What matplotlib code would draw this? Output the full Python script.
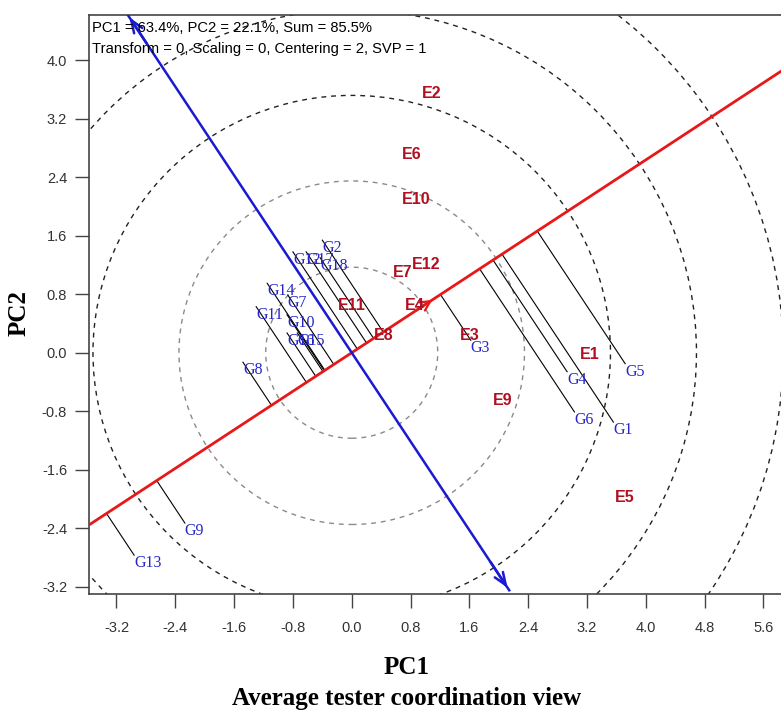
import numpy as np
import matplotlib
matplotlib.use('Agg')
import matplotlib.pyplot as plt
from matplotlib.patches import Circle

plt.rcParams['axes.unicode_minus'] = False

# ---------------- data ----------------
genotypes = ['G1', 'G2', 'G3', 'G4', 'G5', 'G6', 'G7', 'G8', 'G9', 'G10',
             'G11', 'G12', 'G13', 'G14', 'G15', 'G16', 'G17', 'G18']
geno_pc1 = [3.56, -0.40, 1.62, 2.93, 3.72, 3.03, -0.87, -1.48, -2.27, -0.88,
            -1.30, -0.80, -2.96, -1.15, -0.74, -0.88, -0.62, -0.43]
geno_pc2 = [-0.95, 1.54, 0.17, -0.26, -0.15, -0.81, 0.79, -0.13, -2.33, 0.52,
            0.63, 1.38, -2.77, 0.95, 0.27, 0.27, 1.38, 1.30]

environments = ['E1', 'E2', 'E3', 'E4', 'E5', 'E6', 'E7', 'E8', 'E9', 'E10',
                'E11', 'E12']
env_pc1 = [3.24, 1.09, 1.61, 0.86, 3.72, 0.81, 0.70, 0.43, 2.05, 0.88, 0.00, 1.01]
env_pc2 = [-0.03, 3.54, 0.23, 0.65, -1.98, 2.71, 1.10, 0.23, -0.66, 2.09, 0.65, 1.20]

aec_point = [1.13, 0.745]            # average environment (arrow head)
circle_radii = [1.17, 2.35, 3.52, 4.69, 5.87]

xticks = [-3.2, -2.4, -1.6, -0.8, 0.0, 0.8, 1.6, 2.4, 3.2, 4.0, 4.8, 5.6]
yticks = [-3.2, -2.4, -1.6, -0.8, 0.0, 0.8, 1.6, 2.4, 3.2, 4.0]

variance_text = 'PC1 = 63.4%, PC2 = 22.1%, Sum = 85.5%'
settings_text = 'Transform = 0, Scaling = 0, Centering = 2, SVP = 1'
x_title = 'PC1'
y_title = 'PC2'
sub_title = 'Average tester coordination view'

# ---------------- figure ----------------
W, H = 781, 715
fig = plt.figure(figsize=(W / 100, H / 100), dpi=100)
ax = fig.add_axes([89.3 / W, (H - 594.3) / H, (W - 89.3) / W, (594.3 - 15) / H])
xlim = (-3.57, 5.84)
ylim = (-3.305, 4.62)
ax.set_xlim(*xlim)
ax.set_ylim(*ylim)

# concentric circles
for i, r in enumerate(circle_radii):
    col = '#8a8a8a' if i < 2 else '#222222'
    c = Circle((0, 0), r, fill=False, ls=(0, (3.5, 3.5)), lw=1.0, ec=col, zorder=1)
    ax.add_patch(c)

# AEC abscissa (red) and ordinate (blue)
aec = np.array(aec_point)
u = aec / np.linalg.norm(aec)
v = np.array([-u[1], u[0]])
ax.axline((0, 0), tuple(aec), color='#e81818', lw=2.0, zorder=3)
ax.annotate('', xy=tuple(aec), xytext=tuple(aec * 0.75),
            arrowprops=dict(arrowstyle='->,head_length=0.7,head_width=0.35',
                            color='#e81818', lw=1.6), zorder=4)

t_top = ylim[1] / v[1]
t_bot = (ylim[0] + 0.055) / v[1]
p_top = v * t_top
p_bot = v * t_bot
ax.plot([p_top[0], p_bot[0]], [p_top[1], p_bot[1]], color='#1a1ad0', lw=1.8, zorder=3)
for tip, tail in [(p_top, p_top - v * 0.5), (p_bot, p_bot + v * 0.5)]:
    ax.annotate('', xy=tuple(tip), xytext=tuple(tail),
                arrowprops=dict(arrowstyle='->,head_length=0.9,head_width=0.35',
                                color='#1a1ad0', lw=1.8), zorder=4,
                annotation_clip=False)

# genotype projections and labels
gx = np.array(geno_pc1)
gy = np.array(geno_pc2)
for name, x, y in zip(genotypes, gx, gy):
    s = x * u[0] + y * u[1]
    px, py = s * u[0], s * u[1]
    ax.plot([x, px], [y, py], color='black', lw=0.8, zorder=2)
    ax.text(x, y, name, color='#2626c8', fontsize=11.5, family='Liberation Serif',
            ha='left', va='top', zorder=5)

# environment labels
for name, x, y in zip(environments, env_pc1, env_pc2):
    ax.text(x, y, name, color='#b01020', fontsize=11.5, fontweight='bold',
            family='Liberation Sans', ha='center', va='center', zorder=5)

# header text inside the frame
ax.text(0.004, 0.99, variance_text + '\n' + settings_text, transform=ax.transAxes,
        ha='left', va='top', fontsize=10.6, family='Liberation Sans',
        linespacing=1.62, color='black', zorder=6)

# axes styling
ax.set_xticks(xticks)
ax.set_yticks(yticks)
ax.set_xticklabels([f'{t:.1f}' for t in xticks])
ax.set_yticklabels([f'{t:.1f}' for t in yticks])
ax.tick_params(direction='out', length=10, width=1.0, color='#444444',
               labelsize=10.5, labelcolor='#333333', pad=6)
ax.tick_params(axis='x', pad=9)
for lab in ax.get_xticklabels() + ax.get_yticklabels():
    lab.set_family('Liberation Sans')
ax.spines['right'].set_visible(False)
for sp in ['left', 'bottom', 'top']:
    ax.spines[sp].set_linewidth(1.2)
    ax.spines[sp].set_color('#444444')

fig.text(407 / W, (H - 668) / H, x_title, ha='center', va='center',
         fontsize=18, fontweight='bold', family='Liberation Serif')
fig.text(407 / W, (H - 699) / H, sub_title, ha='center', va='center',
         fontsize=18, fontweight='bold', family='Liberation Serif')
fig.text(19 / W, (H - 313) / H, y_title, ha='center', va='center', rotation=90,
         fontsize=18, fontweight='bold', family='Liberation Serif')

fig.savefig('out.png', dpi=100)
